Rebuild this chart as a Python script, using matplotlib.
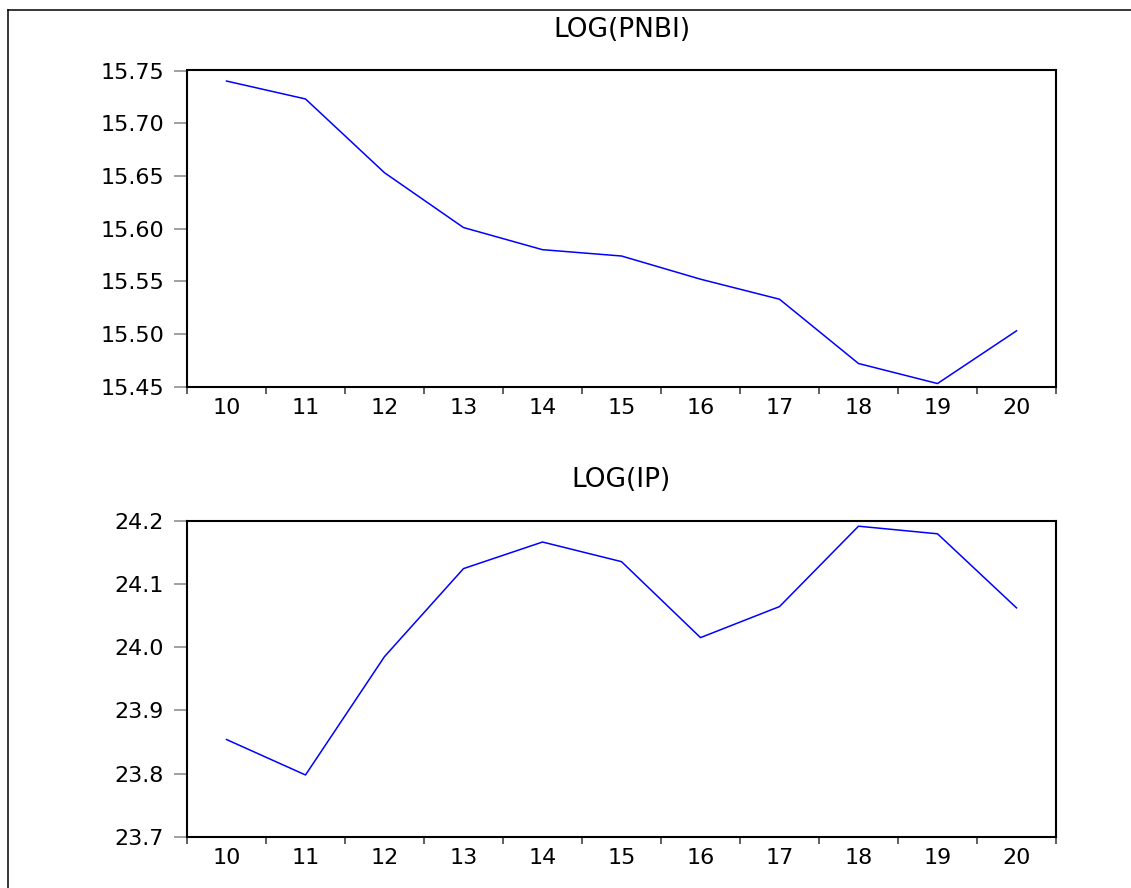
import matplotlib
matplotlib.use('Agg')
import matplotlib.pyplot as plt
from matplotlib.lines import Line2D
from matplotlib.ticker import FixedLocator, FormatStrFormatter

# Data (years 2010..2020 shown as 10..20)
years = ['10', '11', '12', '13', '14', '15', '16', '17', '18', '19', '20']
log_pnbi = [15.740, 15.723, 15.653, 15.601, 15.580, 15.574, 15.552, 15.533, 15.472, 15.453, 15.503]
log_ip = [23.854, 23.798, 23.985, 24.124, 24.166, 24.135, 24.015, 24.064, 24.191, 24.179, 24.062]

pnbi_ticks = [15.45, 15.50, 15.55, 15.60, 15.65, 15.70, 15.75]
ip_ticks = [23.7, 23.8, 23.9, 24.0, 24.1, 24.2]

plt.rcParams['font.family'] = ['DejaVu Sans']

fig = plt.figure(figsize=(11.31, 8.88), dpi=100)
W, H = 1131, 888

# axes boxes in pixels: left, top, right, bottom
boxes = [(187, 70.5, 1056, 386.7), (187, 520.5, 1056, 837)]
series = [
    ('LOG(PNBI)', log_pnbi, pnbi_ticks, '%.2f'),
    ('LOG(IP)', log_ip, ip_ticks, '%.1f'),
]

x = list(range(len(years)))

for (l, t, r, b), (title, vals, yt, fmt) in zip(boxes, series):
    ax = fig.add_axes([l / W, 1 - b / H, (r - l) / W, (b - t) / H])
    ax.plot(x, vals, color='#0000FF', linewidth=1.1)
    ax.set_xlim(-0.5, len(years) - 0.5)
    ax.set_ylim(yt[0], yt[-1])

    # labels at category centres, ticks at category borders
    ax.set_xticks(x)
    ax.set_xticklabels(years)
    ax.xaxis.set_minor_locator(FixedLocator([i - 0.5 for i in range(len(years) + 1)]))
    ax.tick_params(axis='x', which='major', length=0, pad=8, labelsize=16)
    ax.tick_params(axis='x', which='minor', length=5, width=1.2, color='#444444')

    ax.set_yticks(yt)
    ax.yaxis.set_major_formatter(FormatStrFormatter(fmt))
    ax.tick_params(axis='y', length=9.5, width=1.3, color='#999999', pad=7, labelsize=16)

    for s in ax.spines.values():
        s.set_linewidth(1.5)
        s.set_color('black')

    ax.set_title(title, fontsize=19, pad=24)

# outer frame (left and top edges visible in the picture)
x0, y0 = 8.3 / W, 1 - 10.3 / H
fig.add_artist(Line2D([x0, x0], [0, y0], color='black', linewidth=1.1))
fig.add_artist(Line2D([x0, 1], [y0, y0], color='black', linewidth=1.1))

fig.savefig('out.png', dpi=100)
